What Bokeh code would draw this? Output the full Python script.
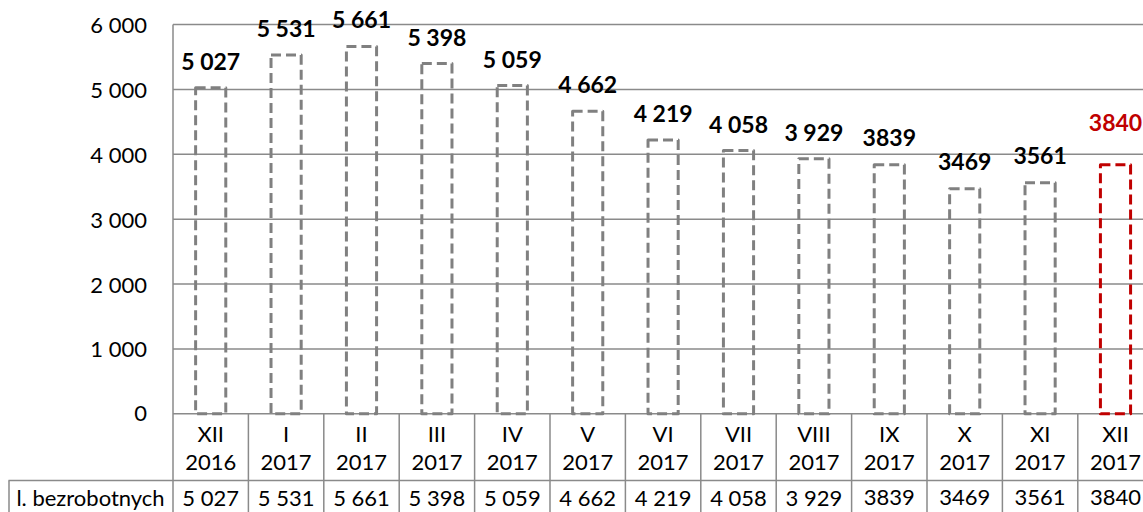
from bokeh.plotting import figure
from bokeh.models import Range1d, ColumnDataSource
from bokeh.core.properties import value
from bokeh.embed import file_html
from bokeh.resources import INLINE

# ---------------- data ----------------
months = ["XII", "I", "II", "III", "IV", "V", "VI", "VII", "VIII", "IX", "X", "XI", "XII"]
years = ["2016"] + ["2017"] * 12
unemployed = [5027, 5531, 5661, 5398, 5059, 4662, 4219, 4058, 3929, 3839, 3469, 3561, 3840]
value_labels = ["5 027", "5 531", "5 661", "5 398", "5 059", "4 662", "4 219",
                "4 058", "3 929", "3839", "3469", "3561", "3840"]
y_ticks = [0, 1000, 2000, 3000, 4000, 5000, 6000]
y_tick_labels = ["0", "1 000", "2 000", "3 000", "4 000", "5 000", "6 000"]
row_title = "l. bezrobotnych"

# ---------------- styling / geometry ----------------
W, H = 1143, 512
CAT_PX = 75.4        # width of one category in px
LEFT_PX = 172.5      # x of the value axis in px
TOP_PX = 24.0        # y (px) of the top tick
ZERO_PX = 413.3      # y (px) of zero
Y_MAX = y_ticks[-1]
ypx = (ZERO_PX - TOP_PX) / Y_MAX

GRID = "#8a8a8a"
BAR_GRAY = "#808080"
RED = "#c00000"
FONT = value("Lato")
REG = "22px"
BOLD = "23px"

def dx(px):
    return px / CAT_PX

def dy(px_below_zero):
    return -px_below_zero / ypx

x0 = -LEFT_PX / CAT_PX
x1 = (W - LEFT_PX) / CAT_PX
y0 = -(H - ZERO_PX) / ypx
y1 = Y_MAX + TOP_PX / ypx

p = figure(width=W, height=H, x_range=Range1d(x0, x1), y_range=Range1d(y0, y1),
           output_backend="svg", toolbar_location=None, min_border=0,
           x_axis_location=None, y_axis_location=None)
p.grid.visible = False
p.outline_line_color = None
p.background_fill_color = "white"
p.border_fill_color = "white"

n = len(unemployed)
centers = [i + 0.5 for i in range(n)]
bar_colors = [BAR_GRAY] * (n - 1) + [RED]
label_colors = ["black"] * (n - 1) + [RED]
label_offsets = [-27] * (n - 1) + [-42]

# gridlines (plot area)
p.segment(x0=[0] * len(y_ticks), x1=[x1] * len(y_ticks), y0=y_ticks, y1=y_ticks,
          line_color=GRID, line_width=1.5)

# value axis line, extending through the header row
row_top = dy(66.7)
p.segment(x0=[0], x1=[0], y0=[Y_MAX], y1=[y0], line_color=GRID, line_width=1.5)

# table: vertical separators
bounds = list(range(1, n + 1))
p.segment(x0=bounds, x1=bounds, y0=[0] * n, y1=[y0] * n, line_color=GRID, line_width=1.5)
# table: data row top line and left border
p.segment(x0=[x0 + dx(8)], x1=[x1], y0=[row_top], y1=[row_top], line_color=GRID, line_width=1.5)
p.segment(x0=[x0 + dx(8.5)], x1=[x0 + dx(8.5)], y0=[row_top], y1=[y0],
          line_color=GRID, line_width=1.5)

# bars
src = ColumnDataSource(dict(x=centers, top=unemployed, color=bar_colors,
                            lab=value_labels, lcol=label_colors, loff=label_offsets,
                            m=months, yr=years))
p.vbar(x="x", top="top", bottom=0, width=0.4, source=src, fill_color=None,
       line_color="color", line_width=3, line_dash="10 5", line_join="round")

# bar value labels
p.text(x="x", y="top", text="lab", source=src, y_offset="loff",
       text_align="center", text_baseline="middle", text_color="lcol",
       text_font=FONT, text_font_size=BOLD, text_font_style="bold")

# y tick labels
p.text(x=[0] * len(y_ticks), y=y_ticks, text=y_tick_labels, x_offset=-26,
       text_align="right", text_baseline="middle", text_color="black",
       text_font=FONT, text_font_size=REG)

# table header (categories)
p.text(x="x", y=0, text="m", source=src, y_offset=20,
       text_align="center", text_baseline="middle", text_color="black",
       text_font=FONT, text_font_size=REG)
p.text(x="x", y=0, text="yr", source=src, y_offset=49,
       text_align="center", text_baseline="middle", text_color="black",
       text_font=FONT, text_font_size=REG)
# table data row
p.text(x="x", y=0, text="lab", source=src, y_offset=84,
       text_align="center", text_baseline="middle", text_color="black",
       text_font=FONT, text_font_size=REG)
p.text(x=[x0 + dx(90)], y=[0], text=[row_title], y_offset=84,
       text_align="center", text_baseline="middle", text_color="black",
       text_font=FONT, text_font_size=REG)

open("out.html", "w").write(file_html(p, INLINE))
